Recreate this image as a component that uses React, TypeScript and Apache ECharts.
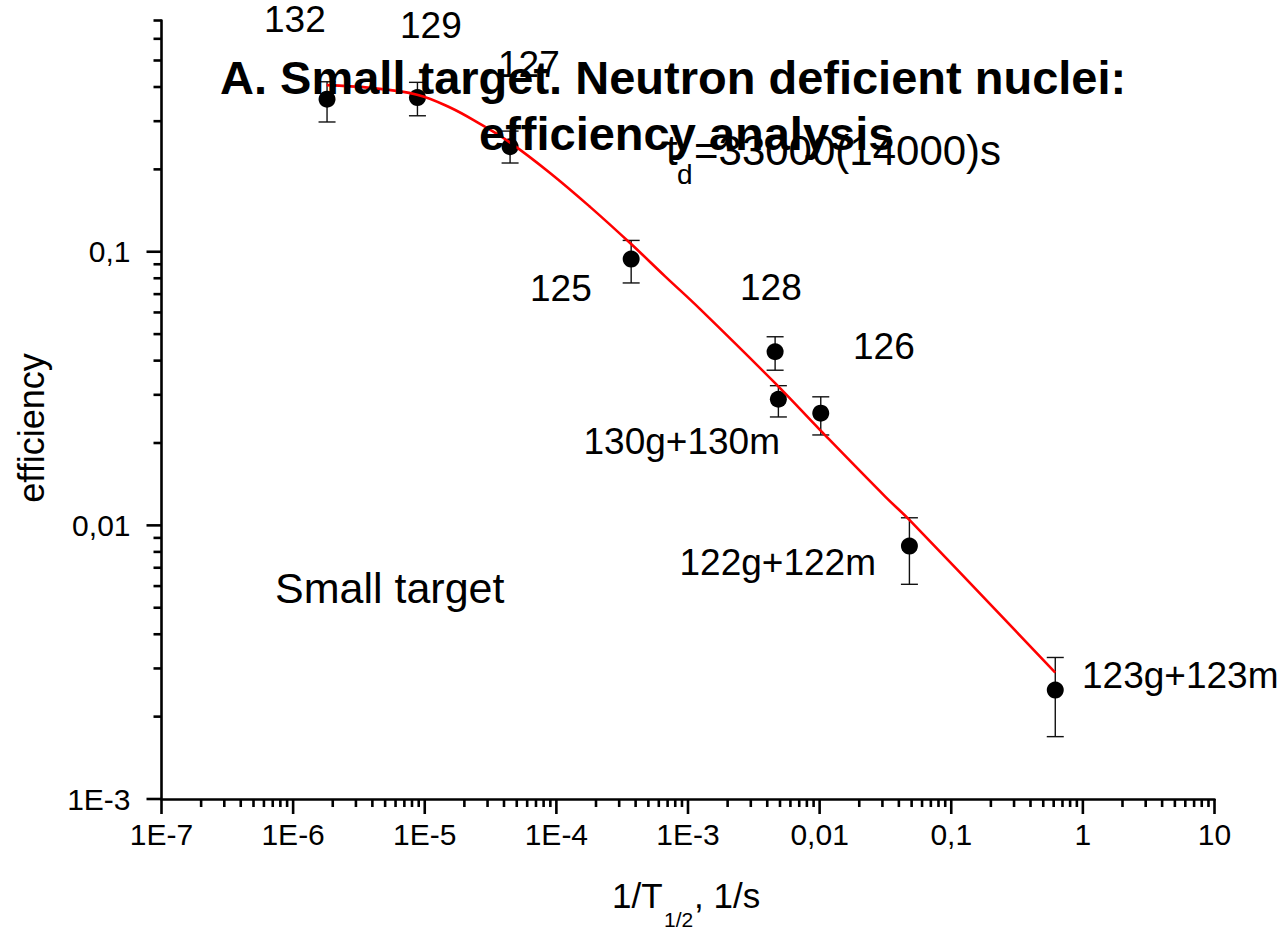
import React, { useEffect, useRef } from "react";
import * as echarts from "echarts";

const FONT = '"Liberation Sans", Arial, Helvetica, sans-serif';

// Measured isotopes: 1/T1/2 (1/s), efficiency and its error range
const isotopes = ["132", "129", "127", "125", "128", "130g+130m", "126", "122g+122m", "123g+123m"];
const decayRate = [1.81e-6, 8.8e-6, 4.45e-5, 3.7e-4, 4.59e-3, 4.86e-3, 1.02e-2, 4.81e-2, 0.617];
const efficiency = [0.361, 0.366, 0.242, 0.094, 0.0431, 0.0289, 0.0257, 0.0084, 0.0025];
const effLow = [0.298, 0.314, 0.211, 0.0769, 0.0369, 0.0249, 0.0214, 0.00609, 0.00169];
const effHigh = [0.418, 0.416, 0.276, 0.11, 0.0489, 0.0324, 0.0295, 0.01066, 0.00329];

// Fitted release curve (t_d = 33000 s)
const fitRate = [
  1.8e-6, 3.84e-6, 8.74e-6, 1.557e-5, 2.63e-5, 4.45e-5, 8.95e-5, 1.803e-4,
  3.7e-4, 6.7e-4, 1.236e-3, 4.59e-3, 1.009e-2, 3.15e-2, 4.81e-2, 0.617,
];
const fitEff = [
  0.4064, 0.3972, 0.375, 0.3365, 0.2931, 0.2506, 0.1941, 0.1459,
  0.1067, 0.0813, 0.0617, 0.0331, 0.0223, 0.01274, 0.01047, 0.002897,
];

// Axis decades and their labels
const xTickValues = [1e-7, 1e-6, 1e-5, 1e-4, 1e-3, 0.01, 0.1, 1, 10];
const xTickText = ["1E-7", "1E-6", "1E-5", "1E-4", "1E-3", "0,01", "0,1", "1", "10"];
const yTickValues = [1e-3, 0.01, 0.1];
const yTickText = ["1E-3", "0,01", "0,1"];
const X_MIN = 1e-7;
const X_MAX = 10;
const Y_MIN = 1e-3;
const Y_MAX = 0.7;

function labelFor(values: number[], texts: string[]) {
  return (v: number) => {
    const i = values.findIndex((t) => Math.abs(Math.log10(t) - Math.log10(v)) < 1e-6);
    return i >= 0 ? texts[i] : "";
  };
}

// major tick at every decade, minor ticks at 2..9 x decade
function buildTicks(decades: number[], max: number) {
  const out: { v: number; major: number }[] = [];
  decades.forEach((d) => {
    out.push({ v: d, major: 1 });
    for (let m = 2; m <= 9; m++) {
      const v = m * d;
      if (v <= max * 1.0001) out.push({ v, major: 0 });
    }
  });
  return out.filter((t) => t.v <= max * 1.0001);
}

const AXIS_W = 2.6;
const MAJOR_LEN = 15;
const MINOR_LEN = 8;

function text(
  content: string,
  x: number,
  y: number,
  size: number,
  extra: Record<string, unknown> = {},
  styleExtra: Record<string, unknown> = {}
) {
  return {
    type: "text",
    x,
    y,
    z: 100,
    ...extra,
    style: {
      text: content,
      fontFamily: FONT,
      fontSize: size,
      fill: "#000",
      textAlign: "left",
      textVerticalAlign: "middle",
      ...styleExtra,
    },
  };
}

export default function App() {
  const ref = useRef<HTMLDivElement>(null);

  useEffect(() => {
    document.body.style.margin = "0";
    if (!ref.current) return;
    const chart = echarts.init(ref.current, undefined, { renderer: "svg" });

    const xTicks = buildTicks(xTickValues.slice(0, -1), X_MAX).concat([{ v: X_MAX, major: 1 }]);
    const yTicks = buildTicks(yTickValues, Y_MAX);

    const points = decayRate.map((x, i) => [x, efficiency[i]]);
    const bars = decayRate.map((x, i) => [x, effLow[i], effHigh[i]]);
    const fit = fitRate.map((x, i) => [x, fitEff[i]]);

    const option: any = {
      animation: false,
      backgroundColor: "#fff",
      grid: { left: 161.5, right: 72.5, top: 20.5, bottom: 137, containLabel: false },
      xAxis: {
        type: "log",
        logBase: 10,
        min: X_MIN,
        max: X_MAX,
        axisLine: { show: true, lineStyle: { color: "#000", width: AXIS_W } },
        axisTick: { show: false },
        minorTick: { show: false },
        splitLine: { show: false },
        axisLabel: {
          formatter: labelFor(xTickValues, xTickText),
          color: "#000",
          fontFamily: FONT,
          fontSize: 30,
          margin: 20,
          showMinLabel: true,
          showMaxLabel: true,
        },
      },
      yAxis: {
        type: "log",
        logBase: 10,
        min: Y_MIN,
        max: Y_MAX,
        axisLine: { show: true, lineStyle: { color: "#000", width: AXIS_W } },
        axisTick: { show: false },
        minorTick: { show: false },
        splitLine: { show: false },
        axisLabel: {
          formatter: labelFor(yTickValues, yTickText),
          color: "#000",
          fontFamily: FONT,
          fontSize: 30,
          margin: 31,
        },
      },
      series: [
        {
          // error bars
          type: "custom",
          data: bars,
          z: 3,
          renderItem: (_p: any, api: any) => {
            const x = api.value(0);
            const lo = api.coord([x, api.value(1)]);
            const hi = api.coord([x, api.value(2)]);
            const cap = 8.5;
            const st = { stroke: "#111", lineWidth: 1.4 };
            return {
              type: "group",
              children: [
                { type: "line", shape: { x1: lo[0], y1: lo[1], x2: hi[0], y2: hi[1] }, style: st },
                { type: "line", shape: { x1: lo[0] - cap, y1: lo[1], x2: lo[0] + cap, y2: lo[1] }, style: st },
                { type: "line", shape: { x1: hi[0] - cap, y1: hi[1], x2: hi[0] + cap, y2: hi[1] }, style: st },
              ],
            };
          },
        },
        {
          type: "scatter",
          data: points,
          symbol: "circle",
          symbolSize: 17,
          itemStyle: { color: "#000", opacity: 1 },
          z: 4,
        },
        {
          type: "line",
          data: fit,
          showSymbol: false,
          smooth: 0.4,
          lineStyle: { color: "#ff0000", width: 2.6 },
          z: 5,
        },
        {
          // x-axis ticks (outward)
          type: "custom",
          data: xTicks.map((t) => [t.v, Y_MIN, t.major]),
          z: 6,
          clip: false,
          renderItem: (_p: any, api: any) => {
            const p = api.coord([api.value(0), api.value(1)]);
            const len = api.value(2) ? MAJOR_LEN : MINOR_LEN;
            return {
              type: "line",
              shape: { x1: p[0], y1: p[1], x2: p[0], y2: p[1] + len },
              style: { stroke: "#000", lineWidth: AXIS_W },
            };
          },
        },
        {
          // y-axis ticks (outward)
          type: "custom",
          data: yTicks.map((t) => [X_MIN, t.v, t.major]),
          z: 6,
          clip: false,
          renderItem: (_p: any, api: any) => {
            const p = api.coord([api.value(0), api.value(1)]);
            const len = api.value(2) ? MAJOR_LEN : MINOR_LEN;
            return {
              type: "line",
              shape: { x1: p[0] - len, y1: p[1], x2: p[0], y2: p[1] },
              style: { stroke: "#000", lineWidth: AXIS_W },
            };
          },
        },
      ],
      graphic: [
        // isotope annotations
        text(isotopes[0], 264, 19, 37),
        text(isotopes[1], 400, 25.5, 37),
        text(isotopes[2], 498, 64, 37),
        text(isotopes[3], 530, 288, 37),
        text(isotopes[4], 740, 287, 37),
        text(isotopes[6], 853, 346, 37),
        text(isotopes[5], 780, 441, 37, {}, { textAlign: "right" }),
        text(isotopes[7], 876, 562, 37, {}, { textAlign: "right" }),
        text(isotopes[8], 1082, 675.2, 37),
        text("Small target", 275, 588, 43),
        // title
        text("A. Small target. Neutron deficient nuclei:", 220, 77, 47, {}, { fontWeight: "bold" }),
        text("efficiency analysis", 479, 133, 47, {}, { fontWeight: "bold" }),
        // diffusion time
        text("t", 666, 150, 42),
        text("d", 677, 174, 28),
        text("=33000(14000)s", 694, 150, 42),
        // axis names
        text("efficiency", 31, 428, 36, { rotation: Math.PI / 2 }, { textAlign: "center" }),
        text("1/T", 612, 895.9, 35),
        text("1/2", 664, 919.7, 21),
        text(", 1/s", 694, 895.9, 35),
      ],
    };

    chart.setOption(option);
    return () => chart.dispose();
  }, []);

  return <div ref={ref} style={{ width: 1287, height: 936 }} />;
}
